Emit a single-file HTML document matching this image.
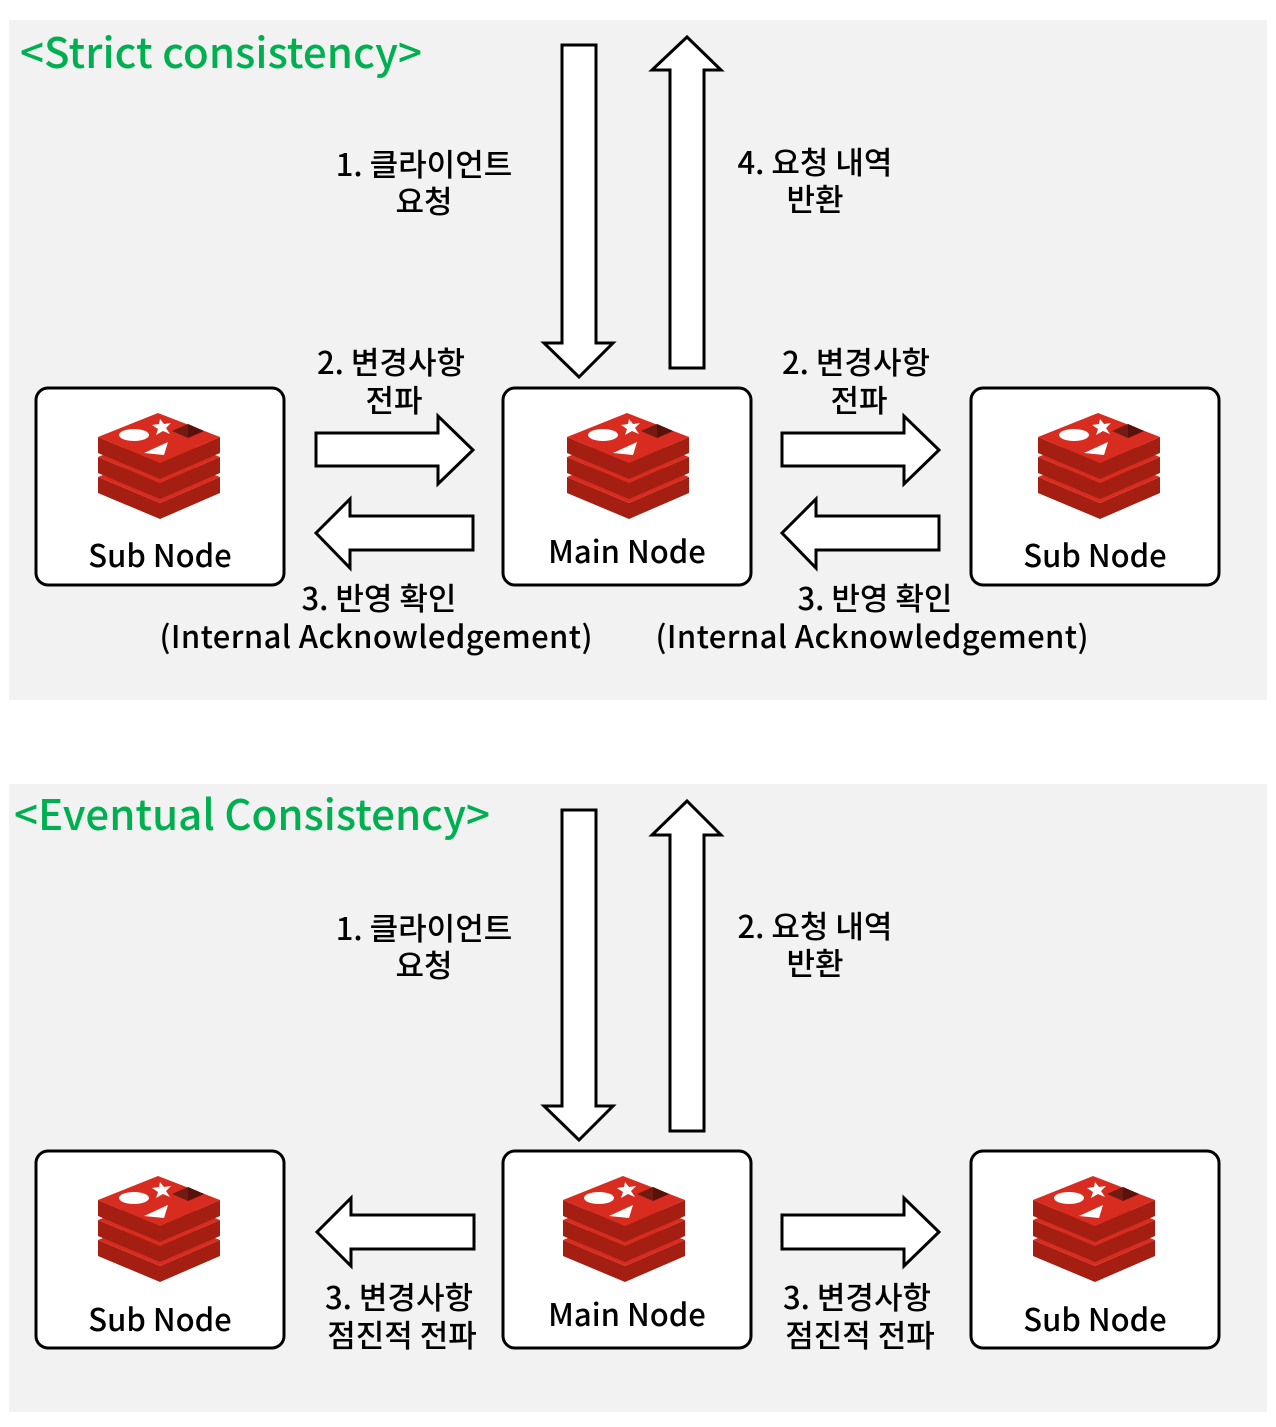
<!DOCTYPE html>
<html><head><meta charset="utf-8"><style>
body{margin:0;background:#fff;width:1276px;height:1422px;overflow:hidden}
svg text{font-family:"Noto Sans CJK KR","Liberation Sans",sans-serif;font-weight:500}
</style></head><body>
<svg width="1276" height="1422" viewBox="0 0 1276 1422" xmlns="http://www.w3.org/2000/svg">
<defs>
<g id="logo">
 <path d="M0,40 L62,66 L122,40 L122,56 L62,82 L0,56Z" fill="#a41e11"/>
 <path d="M0,40 L60,16 L122,40 L62,66Z" fill="#d82c20"/>
 <path d="M0,20 L62,46 L122,20 L122,36 L62,62 L0,36Z" fill="#a41e11"/>
 <path d="M0,20 L60,-4 L122,20 L62,46Z" fill="#d82c20"/>
 <path d="M0,0 L62,26 L122,0 L122,16 L62,42 L0,16Z" fill="#a41e11"/>
 <path d="M0,0 L60,-24 L122,0 L62,26Z" fill="#d82c20"/>
 <ellipse cx="36" cy="-2" rx="15" ry="6" fill="#fff"/>
 <path d="M46,16 L70,5 L66,18Z" fill="#fff"/>
 <path d="M62,-18 L66,-13 L73,-14 L68,-9 L72,-3 L65,-6 L58,-2 L60,-8 L54,-12 L61,-13Z" fill="#fff"/>
 <path d="M74,-6 L90,-13 L106,-6 L90,1Z" fill="#721b12"/>
 <path d="M90,-13 L106,-6 L90,1Z" fill="#5a110c"/>
</g>
</defs>
<rect x="9" y="20" width="1258" height="680" fill="#f2f2f2"/>
<rect x="9" y="784" width="1258" height="628" fill="#f2f2f2"/>
<g fill="#fff" stroke="#000" stroke-width="3" stroke-linejoin="miter">
<path d="M562,45 H596 V343 H613 L579,377 L544,343 H562Z"/>
<path d="M670,368 H704 V70 H721 L687,37 L652,70 H670Z"/>
<rect x="36" y="388" width="248" height="197" rx="12"/>
<rect x="503" y="388" width="248" height="197" rx="12"/>
<rect x="971" y="388" width="248" height="197" rx="12"/>
<path d="M316,433 H438 V416 L473,450 L438,484 V466 H316Z"/>
<path d="M473,516 H350 V499 L316,533 L350,568 V550 H473Z"/>
<path d="M782,433 H904 V416 L939,450 L904,484 V466 H782Z"/>
<path d="M939,516 H816 V499 L782,533 L816,568 V550 H939Z"/>
<path d="M562,810 H596 V1106 H613 L579,1140 L544,1106 H562Z"/>
<path d="M670,1131 H704 V835 H721 L687,801 L652,835 H670Z"/>
<rect x="36" y="1151" width="248" height="197" rx="12"/>
<rect x="503" y="1151" width="248" height="197" rx="12"/>
<rect x="971" y="1151" width="248" height="197" rx="12"/>
<path d="M474,1215 H351 V1198 L317,1232 L351,1266 V1249 H474Z"/>
<path d="M782,1215 H904 V1198 L939,1232 L904,1266 V1249 H782Z"/>
</g>
<use href="#logo" x="98" y="437"/>
<use href="#logo" x="567" y="437"/>
<use href="#logo" x="1038" y="437"/>
<use href="#logo" x="98" y="1200"/>
<use href="#logo" x="563" y="1200"/>
<use href="#logo" x="1033" y="1200"/>
<g font-size="42" fill="#00b050">
<text x="20" y="68" textLength="402">&lt;Strict consistency&gt;</text>
<text x="14" y="830" textLength="476">&lt;Eventual Consistency&gt;</text>
</g>
<g font-size="31" fill="#000" text-anchor="middle">
<text x="160" y="567">Sub Node</text>
<text x="627" y="563">Main Node</text>
<text x="1095" y="567">Sub Node</text>
<text x="160" y="1331">Sub Node</text>
<text x="627" y="1326">Main Node</text>
<text x="1095" y="1331">Sub Node</text>
<text x="424" y="176">1. 클라이언트</text>
<text x="424" y="213">요청</text>
<text x="815" y="174">4. 요청 내역</text>
<text x="815" y="211">반환</text>
<text x="391" y="374">2. 변경사항</text>
<text x="394" y="412">전파</text>
<text x="856" y="374">2. 변경사항</text>
<text x="859" y="412">전파</text>
<text x="379" y="610">3. 반영 확인</text>
<text x="376" y="648" textLength="433">(Internal Acknowledgement)</text>
<text x="875" y="610">3. 반영 확인</text>
<text x="872" y="648" textLength="433">(Internal Acknowledgement)</text>
<text x="424" y="940">1. 클라이언트</text>
<text x="424" y="977">요청</text>
<text x="815" y="938">2. 요청 내역</text>
<text x="815" y="975">반환</text>
<text x="399" y="1309">3. 변경사항</text>
<text x="402" y="1347">점진적 전파</text>
<text x="857" y="1309">3. 변경사항</text>
<text x="860" y="1347">점진적 전파</text>
</g>
</svg>
</body></html>
